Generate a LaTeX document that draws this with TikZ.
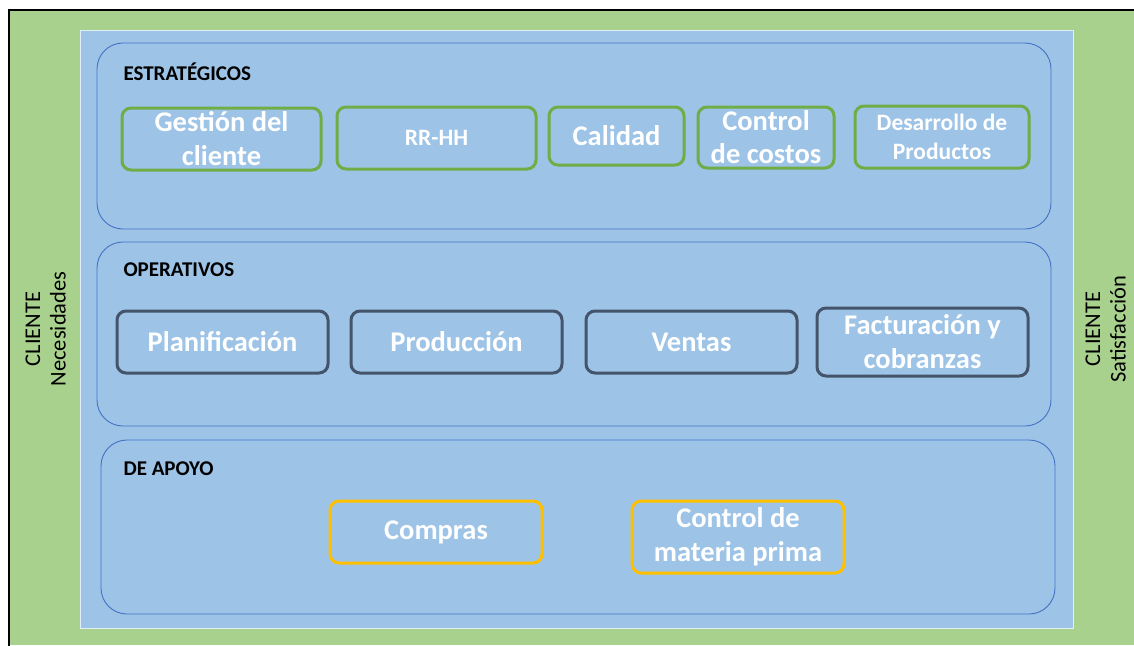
\documentclass[tikz,border=0pt]{standalone}
\usepackage{fontspec}
\setmainfont{Carlito}
\definecolor{bgGreen}{HTML}{A9D18E}
\definecolor{bgBlue}{HTML}{9DC3E6}
\definecolor{panelLine}{HTML}{4472C4}
\definecolor{boxGreen}{HTML}{70AD47}
\definecolor{boxDark}{HTML}{44546A}
\definecolor{boxGold}{HTML}{FFC000}
\tikzset{
  panel/.style={draw=panelLine, line width=0.9pt, rounded corners=26pt},
  pbox/.style={rounded corners=9pt, line width=3pt, fill=bgBlue, text=white,
    font=\bfseries, align=center, inner sep=0pt},
  gbox/.style={pbox, draw=boxGreen},
  dbox/.style={pbox, draw=boxDark},
  ybox/.style={pbox, draw=boxGold},
  ptitle/.style={anchor=west, font=\bfseries\fontsize{21}{24}\selectfont, text=black},
  side/.style={rotate=90, font=\fontsize{22.5}{25}\selectfont, align=center, text=black}
}
\begin{document}
\begin{tikzpicture}[x=1pt,y=-1pt]
\useasboundingbox (0,0) rectangle (1134,645);
\fill[white] (0,0) rectangle (1134,645);
\fill[bgGreen] (9,11) rectangle (1134,645);
\draw[black, line width=2pt] (9,646) -- (9,10) -- (1134,10);
\fill[bgBlue] (80,30) rectangle (1073,628);
\draw[white!70!bgBlue, line width=0.8pt] (80,30) rectangle (1073,628);
% panels
\draw[panel] (97,43) rectangle (1051,229);
\draw[panel] (97,242) rectangle (1051,426);
\draw[panel] (101,440) rectangle (1055,614);
\node[ptitle] (t1) at (120,72) {ESTRATÉGICOS};
\node[ptitle] (t2) at (120,270) {OPERATIVOS};
\node[ptitle] (t3) at (120,469) {DE APOYO};
% estrategicos
\node[gbox, minimum width=199pt, minimum height=62pt, font=\bfseries\fontsize{28.5}{34}\selectfont] (g1) at (221.5,139) {Gestión del\\cliente};
\node[gbox, minimum width=199pt, minimum height=62pt, font=\bfseries\fontsize{23.5}{26}\selectfont] (g2) at (436.5,138) {RR-HH};
\node[gbox, minimum width=135pt, minimum height=58pt, font=\bfseries\fontsize{28.5}{32}\selectfont] (g3) at (616.5,136) {Calidad};
\node[gbox, minimum width=136pt, minimum height=61pt, font=\bfseries\fontsize{28.5}{33}\selectfont] (g4) at (766,137.5) {Control\\de costos};
\node[gbox, minimum width=174pt, minimum height=62pt, font=\bfseries\fontsize{23.5}{29}\selectfont] (g5) at (942,137) {Desarrollo de\\Productos};
% operativos
\node[dbox, minimum width=211pt, minimum height=62pt, font=\bfseries\fontsize{28.5}{32}\selectfont] (o1) at (222.5,342) {Planificación};
\node[dbox, minimum width=211pt, minimum height=62pt, font=\bfseries\fontsize{28.5}{32}\selectfont] (o2) at (456.5,342) {Producción};
\node[dbox, minimum width=211pt, minimum height=62pt, font=\bfseries\fontsize{28.5}{32}\selectfont] (o3) at (691.5,342) {Ventas};
\node[dbox, minimum width=211pt, minimum height=68pt, font=\bfseries\fontsize{28.5}{34}\selectfont] (o4) at (922.5,342) {Facturación y\\cobranzas};
% apoyo
\node[ybox, minimum width=212pt, minimum height=62pt, font=\bfseries\fontsize{28.5}{32}\selectfont] (a1) at (436,532) {Compras};
\node[ybox, minimum width=212pt, minimum height=72pt, font=\bfseries\fontsize{28.5}{34}\selectfont] (a2) at (738,537) {Control de\\materia prima};
% side labels
\node[side] (s1) at (33,329) {CLIENTE};
\node[side] (s2) at (58,329) {Necesidades};
\node[side] (s3) at (1093,329) {CLIENTE};
\node[side] (s4) at (1118,329) {Satisfacción};
\end{tikzpicture}
\end{document}
